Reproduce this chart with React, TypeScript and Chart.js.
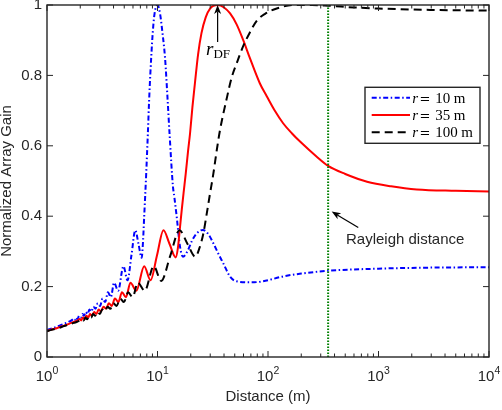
import React, { useEffect, useRef } from "react";
import { Chart, registerables } from "chart.js";

Chart.register(...registerables);

// ---------- data ----------
const distance10 = [1.0, 1.1, 1.2, 1.3, 1.4, 1.5, 1.6, 1.67, 1.73, 1.78, 1.83, 1.89, 1.95, 2.02, 2.09, 2.16, 2.24, 2.33, 2.42, 2.52, 2.63, 2.75, 2.88, 3.02, 3.18, 3.36, 3.56, 3.78, 4.05, 4.4, 4.92, 5.35, 5.81, 6.3, 6.73, 7.19, 7.4, 7.58, 7.73, 7.9, 8.18, 8.4, 8.6, 9.05, 9.4, 10.0, 10.55, 11.1, 11.7, 12.35, 12.85, 13.8, 14.2, 14.9, 16.0, 17.0, 18.9, 20.5, 22.6, 25.8, 29, 32, 36, 39.4, 45.4, 52, 70, 90, 137, 200, 350, 1000, 3000, 10000];
const gain10 = [0.077, 0.081, 0.085, 0.089, 0.093, 0.097, 0.101, 0.104, 0.108, 0.104, 0.112, 0.107, 0.117, 0.112, 0.122, 0.117, 0.128, 0.122, 0.135, 0.129, 0.143, 0.137, 0.153, 0.145, 0.166, 0.156, 0.184, 0.17, 0.211, 0.188, 0.258, 0.218, 0.289, 0.36, 0.321, 0.282, 0.33, 0.4, 0.455, 0.52, 0.635, 0.73, 0.8, 0.92, 0.975, 1.0, 0.975, 0.92, 0.85, 0.73, 0.635, 0.484, 0.455, 0.4, 0.313, 0.285, 0.304, 0.33, 0.351, 0.361, 0.348, 0.323, 0.29, 0.266, 0.228, 0.215, 0.212, 0.215, 0.229, 0.237, 0.245, 0.251, 0.254, 0.255];

const distance35 = [1.0, 1.1, 1.2, 1.3, 1.4, 1.5, 1.6, 1.7, 1.8, 1.9, 1.97, 2.04, 2.11, 2.185, 2.27, 2.36, 2.45, 2.55, 2.67, 2.8, 2.93, 3.07, 3.24, 3.42, 3.63, 3.85, 4.12, 4.42, 4.77, 5.18, 5.69, 6.43, 7.58, 8.65, 9.9, 11.32, 12.86, 14.6, 15.3, 16.0, 16.6, 17.2, 18.0, 18.9, 19.7, 20.7, 21.8, 23.3, 25.0, 27.3, 29.9, 35, 40, 45.4, 52, 59.7, 68.6, 84.5, 97.7, 115, 137, 165, 195, 276, 350, 500, 788, 1300, 2220, 5000, 10000];
const gain35 = [0.074, 0.078, 0.081, 0.085, 0.088, 0.091, 0.095, 0.098, 0.101, 0.104, 0.108, 0.104, 0.112, 0.107, 0.117, 0.112, 0.122, 0.117, 0.128, 0.122, 0.135, 0.129, 0.143, 0.137, 0.153, 0.145, 0.166, 0.156, 0.184, 0.17, 0.211, 0.188, 0.258, 0.218, 0.289, 0.36, 0.321, 0.283, 0.31, 0.37, 0.42, 0.465, 0.52, 0.585, 0.635, 0.71, 0.777, 0.86, 0.92, 0.965, 0.99, 1.0, 0.993, 0.976, 0.945, 0.9, 0.849, 0.777, 0.74, 0.7, 0.664, 0.635, 0.612, 0.569, 0.543, 0.52, 0.498, 0.485, 0.476, 0.472, 0.47];

const distance100 = [1.0, 1.1, 1.2, 1.3, 1.4, 1.5, 1.6, 1.7, 1.8, 1.9, 2.0, 2.08, 2.15, 2.23, 2.31, 2.41, 2.51, 2.61, 2.73, 2.86, 3.01, 3.16, 3.33, 3.53, 3.74, 3.99, 4.26, 4.6, 4.97, 5.42, 5.95, 6.64, 7.66, 9.25, 10.8, 13.06, 15.8, 18.64, 22.0, 24, 26, 28, 29.9, 32, 34.4, 36.8, 42, 47, 52, 60, 68, 79, 94, 120, 170, 250, 350, 600, 1000, 3000, 10000];
const gain100 = [0.073, 0.077, 0.08, 0.083, 0.087, 0.09, 0.093, 0.096, 0.098, 0.101, 0.104, 0.108, 0.104, 0.112, 0.107, 0.117, 0.112, 0.122, 0.117, 0.128, 0.122, 0.135, 0.129, 0.143, 0.137, 0.153, 0.145, 0.166, 0.156, 0.184, 0.17, 0.211, 0.188, 0.258, 0.216, 0.288, 0.36, 0.322, 0.285, 0.31, 0.351, 0.41, 0.465, 0.52, 0.588, 0.645, 0.73, 0.795, 0.834, 0.885, 0.92, 0.955, 0.975, 0.99, 1.0, 1.0, 0.998, 0.993, 0.99, 0.986, 0.984];

const seriesRadii = ["10", "35", "100"];
const rayleighDistance = 350;
const xTickExponents = [0, 1, 2, 3, 4];
const xMinorMultipliers = [2, 3, 4, 5, 6, 7, 8, 9];
const peakDistance = 35; // r_DF

// ---------- styles ----------
const SANS = '"Liberation Sans", Arial, Helvetica, sans-serif';
const SERIF = '"Liberation Serif", "Times New Roman", serif';
const WIDE_SERIF = '"DejaVu Serif", "Liberation Serif", serif';
const AXIS = "#262626";
const COLORS = ["#0000FF", "#FF0000", "#000000"];
const DASHES: number[][] = [[5, 2.5, 1.5, 2.5], [], [8, 5]];

const toPoints = (xs: number[], ys: number[]) => xs.map((x, i) => ({ x, y: ys[i] }));

function drawArrow(ctx: CanvasRenderingContext2D, x1: number, y1: number, x2: number, y2: number) {
  const ang = Math.atan2(y2 - y1, x2 - x1);
  const L = 9, W = 3.5, N = 2.5;
  const c = Math.cos(ang), s = Math.sin(ang);
  ctx.beginPath();
  ctx.moveTo(x1, y1);
  ctx.lineTo(x2 - c * (L - N), y2 - s * (L - N));
  ctx.stroke();
  const bx = x2 - c * L, by = y2 - s * L;
  const nx = -s, ny = c;
  ctx.beginPath();
  ctx.moveTo(x2, y2);
  ctx.lineTo(bx + nx * W, by + ny * W);
  ctx.lineTo(x2 - c * (L - N), y2 - s * (L - N));
  ctx.lineTo(bx - nx * W, by - ny * W);
  ctx.closePath();
  ctx.fill();
}

const decorPlugin = {
  id: "decor",
  afterDraw(chart: any) {
    const { ctx, chartArea: a } = chart;
    const x = chart.scales.x;
    const y = chart.scales.y;
    ctx.save();

    // ticks (inward, all four sides)
    ctx.strokeStyle = AXIS;
    ctx.lineWidth = 1;
    ctx.setLineDash([]);
    ctx.beginPath();
    xTickExponents.forEach((e) => {
      const px = x.getPixelForValue(Math.pow(10, e));
      ctx.moveTo(px, a.bottom); ctx.lineTo(px, a.bottom - 6);
      ctx.moveTo(px, a.top); ctx.lineTo(px, a.top + 6);
      if (e < xTickExponents[xTickExponents.length - 1]) {
        xMinorMultipliers.forEach((m) => {
          const qx = x.getPixelForValue(m * Math.pow(10, e));
          ctx.moveTo(qx, a.bottom); ctx.lineTo(qx, a.bottom - 3.5);
          ctx.moveTo(qx, a.top); ctx.lineTo(qx, a.top + 3.5);
        });
      }
    });
    y.ticks.forEach((t: any) => {
      const py = y.getPixelForValue(t.value);
      ctx.moveTo(a.left, py); ctx.lineTo(a.left + 6, py);
      ctx.moveTo(a.right, py); ctx.lineTo(a.right - 6, py);
    });
    ctx.stroke();

    // box
    ctx.lineWidth = 1.4;
    ctx.strokeRect(a.left, a.top, a.right - a.left, a.bottom - a.top);

    // x tick labels 10^e
    ctx.fillStyle = AXIS;
    ctx.textAlign = "left";
    ctx.textBaseline = "alphabetic";
    xTickExponents.forEach((e) => {
      const px = x.getPixelForValue(Math.pow(10, e));
      ctx.font = `15px ${SANS}`;
      const w1 = ctx.measureText("10").width;
      ctx.font = `10.5px ${SANS}`;
      const w2 = ctx.measureText(String(e)).width;
      const start = px - (w1 + w2) / 2;
      ctx.font = `15px ${SANS}`;
      ctx.fillText("10", start, a.bottom + 24);
      ctx.font = `10.5px ${SANS}`;
      ctx.fillText(String(e), start + w1, a.bottom + 16.5);
    });

    // legend
    const lx = a.right - 124, ly = a.top + 82.3, lw = 115, lh = 56;
    ctx.fillStyle = "#ffffff";
    ctx.fillRect(lx, ly, lw, lh);
    ctx.strokeStyle = AXIS;
    ctx.lineWidth = 1.4;
    ctx.strokeRect(lx, ly, lw, lh);
    const rows = [10.4, 27.7, 45];
    chart.data.datasets.slice(0, 3).forEach((ds: any, i: number) => {
      const ry = ly + rows[i];
      ctx.save();
      ctx.strokeStyle = ds.borderColor;
      ctx.lineWidth = 2;
      ctx.setLineDash(ds.borderDash || []);
      ctx.beginPath();
      ctx.moveTo(lx + 6.7, ry);
      ctx.lineTo(lx + 45, ry);
      ctx.stroke();
      ctx.restore();
      ctx.fillStyle = "#000000";
      const base = ry + 4.8;
      ctx.font = `italic 15px ${SERIF}`;
      ctx.fillText("r", lx + 47.3, base);
      ctx.font = `13px ${WIDE_SERIF}`;
      ctx.fillText("=", lx + 54.5, base);
      ctx.font = `15px ${SERIF}`;
      ctx.fillText(seriesRadii[i], lx + 70.3, base);
      const nw = ctx.measureText(seriesRadii[i]).width;
      ctx.fillText("m", lx + 70.3 + nw + 3.5, base);
    });

    // r_DF annotation
    const ax = x.getPixelForValue(peakDistance);
    ctx.strokeStyle = "#000000";
    ctx.fillStyle = "#000000";
    ctx.lineWidth = 1.2;
    drawArrow(ctx, ax, y.getPixelForValue(0.895), ax, y.getPixelForValue(1.0));
    ctx.font = `italic 19px ${SERIF}`;
    ctx.fillText("r", ax - 11.5, y.getPixelForValue(0.858));
    ctx.font = `13px ${SERIF}`;
    ctx.fillText("DF", ax - 4.2, y.getPixelForValue(0.849));

    // Rayleigh distance annotation
    drawArrow(ctx, x.getPixelForValue(656), y.getPixelForValue(0.368), x.getPixelForValue(377), y.getPixelForValue(0.413));
    ctx.fillStyle = AXIS;
    ctx.font = `15px ${SANS}`;
    ctx.fillText("Rayleigh distance", x.getPixelForValue(508), y.getPixelForValue(0.321));

    ctx.restore();
  },
};

export default function App() {
  const ref = useRef<HTMLCanvasElement | null>(null);

  useEffect(() => {
    document.body.style.margin = "0";
    const canvas = ref.current;
    if (!canvas) return;
    const seriesX = [distance10, distance35, distance100];
    const seriesY = [gain10, gain35, gain100];
    const orders = [3, 2, 1];
    const datasets: any[] = seriesX.map((xs, i) => ({
      label: `r = ${seriesRadii[i]} m`,
      data: toPoints(xs, seriesY[i]),
      borderColor: COLORS[i],
      backgroundColor: COLORS[i],
      borderWidth: 2,
      borderDash: DASHES[i],
      pointRadius: 0,
      fill: false,
      cubicInterpolationMode: "monotone",
      order: orders[i],
    }));
    datasets.push({
      label: "Rayleigh distance",
      data: [{ x: rayleighDistance, y: 0 }, { x: rayleighDistance, y: 1 }],
      borderColor: "#008000",
      borderWidth: 2,
      borderDash: [1.5, 1.5],
      pointRadius: 0,
      fill: false,
      order: 0,
    });

    const chart = new Chart(canvas, {
      type: "line",
      data: { datasets },
      options: {
        animation: false,
        responsive: false,
        maintainAspectRatio: false,
        layout: { padding: { left: 0, right: 13, top: 5, bottom: 0 } },
        plugins: { legend: { display: false }, tooltip: { enabled: false } },
        scales: {
          x: {
            type: "logarithmic",
            min: 1,
            max: 10000,
            grid: { display: false, drawTicks: false },
            border: { display: false },
            ticks: { display: false },
            title: {
              display: true,
              text: "Distance (m)",
              color: AXIS,
              font: { size: 15, family: SANS, lineHeight: 0.9 },
              padding: { top: 0, bottom: 6.5 },
            },
            afterFit: (s: any) => {
              s.height = 53;
              s.paddingLeft = 0;
              s.paddingRight = 0;
            },
          },
          y: {
            type: "linear",
            min: 0,
            max: 1,
            grid: { display: false, drawTicks: false },
            border: { display: false },
            ticks: {
              stepSize: 0.2,
              padding: 5,
              color: AXIS,
              font: { size: 15, family: SANS },
              callback: (v: any) => {
                const n = Number(v);
                if (Math.abs(n) < 1e-9) return "0";
                if (Math.abs(n - 1) < 1e-9) return "1";
                return n.toFixed(1);
              },
            },
            title: {
              display: true,
              text: "Normalized Array Gain",
              color: AXIS,
              font: { size: 15, family: SANS, lineHeight: 0.9 },
              padding: { top: 0, bottom: 0 },
            },
            afterFit: (s: any) => {
              s.width = 47;
              s.paddingTop = 0;
              s.paddingBottom = 0;
            },
          },
        },
      } as any,
      plugins: [decorPlugin],
    });
    return () => chart.destroy();
  }, []);

  return (
    <div style={{ width: 502, height: 410, position: "relative", background: "#ffffff", overflow: "hidden" }}>
      <canvas ref={ref} width={502} height={410} style={{ display: "block", width: 502, height: 410 }} />
    </div>
  );
}
